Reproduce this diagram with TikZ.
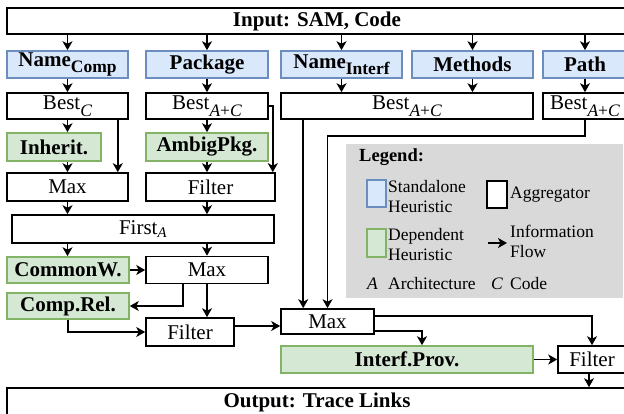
\documentclass[tikz,border=0pt]{standalone}
\usepackage{amsmath}
\usepackage{fontspec}
\setmainfont{Liberation Serif}
\usetikzlibrary{arrows.meta}
\definecolor{stafill}{HTML}{DAE8FC}
\definecolor{stadraw}{HTML}{6C8EBF}
\definecolor{depfill}{HTML}{D5E8D4}
\definecolor{depdraw}{HTML}{82B366}
\definecolor{lgfill}{HTML}{D9D9D9}
\newcommand{\sbsc}[1]{\raisebox{-6.5pt}{\fontsize{17.5}{20}\selectfont #1}}
\begin{document}
\begin{tikzpicture}[x=1pt, y=-1pt,
        font=\fontsize{21}{24}\selectfont,
        agg/.style={draw, line width=1.6pt, fill=white, inner sep=0pt, minimum height=27pt},
        sta/.style={agg, draw=stadraw, fill=stafill, font=\fontsize{21}{24}\selectfont\bfseries},
        dep/.style={agg, draw=depdraw, fill=depfill, font=\fontsize{21}{24}\selectfont\bfseries},
        arr/.style={-{Stealth[length=9pt, width=10pt, inset=2.5pt]}, line width=1.7pt},
        lgtext/.style={anchor=west, inner sep=0pt, align=left, font=\fontsize{17.5}{20}\selectfont}]
        \useasboundingbox (0, 0) rectangle (624, 414);
        \clip (0, 0) rectangle (624, 414);
        % legend
        \fill[lgfill] (346, 144) rectangle (623, 298);
        \node[lgtext, font=\fontsize{18.5}{20}\selectfont\bfseries] (lgtitle) at (359, 157) {Legend:};
        \node[sta, minimum width=19pt] (lgsta) at (376.5, 193.5) {};
        \node[agg, minimum width=20pt] (lgagg) at (497, 194.5) {};
        \node[dep, minimum width=19pt, minimum height=28pt] (lgdep) at (376.5, 243) {};
        \node[lgtext] (lgstatext) at (388, 197) {Standalone\\Heuristic};
        \node[lgtext] (lgaggtext) at (510, 195) {Aggregator};
        \node[lgtext] (lgdeptext) at (388, 245) {Dependent\\Heuristic};
        \node[lgtext] (lgflowtext) at (510, 241) {Information\\Flow};
        \draw[arr] (488, 243) -- (507, 243);
        \node[lgtext, font=\fontsize{17.5}{20}\selectfont\itshape] (lga) at (367, 284) {A};
        \node[lgtext] (lgarch) at (388, 284) {Architecture};
        \node[lgtext, font=\fontsize{17.5}{20}\selectfont\itshape] (lgc) at (491, 284) {C};
        \node[lgtext] (lgcode) at (510, 284) {Code};
        % input and output
        \node[agg, minimum width=620pt, minimum height=26pt, font=\fontsize{21}{24}\selectfont\bfseries] (in) at (317, 21) {Input: SAM, Code};
        \node[agg, minimum width=620pt, minimum height=28pt, font=\fontsize{21}{24}\selectfont\bfseries] (out) at (317, 402) {Output: Trace Links};
        % heuristics
        \node[sta, minimum width=121pt] (ncomp) at (67.5, 64.5) {Name\sbsc{\bfseries Comp}};
        \node[sta, minimum width=122pt] (pkg) at (207, 64.5) {Package};
        \node[sta, minimum width=121pt] (nintf) at (341.5, 64.5) {Name\sbsc{\bfseries Interf}};
        \node[sta, minimum width=121pt] (mth) at (472.5, 64.5) {Methods};
        \node[sta, minimum width=84pt] (pth) at (585, 64.5) {Path};
        \node[agg, minimum width=121pt, minimum height=26pt] (bc) at (67.5, 106) {Best\sbsc{\itshape C}};
        \node[agg, minimum width=122pt, minimum height=26pt] (bpkg) at (207, 106) {Best\sbsc{\itshape A\upshape+\itshape C}};
        \node[agg, minimum width=252pt, minimum height=26pt] (bim) at (407, 106) {Best\sbsc{\itshape A\upshape+\itshape C}};
        \node[agg, minimum width=84pt, minimum height=26pt] (bpth) at (585, 106) {Best\sbsc{\itshape A\upshape+\itshape C}};
        \node[dep, minimum width=94pt, minimum height=28pt] (inh) at (54, 147) {Inherit.};
        \node[dep, minimum width=122pt, minimum height=28pt] (amb) at (207, 147) {AmbigPkg.};
        \node[agg, minimum width=121pt, minimum height=28pt] (max1) at (67.5, 187) {Max};
        \node[agg, minimum width=129pt, minimum height=28pt] (filt1) at (210.5, 187) {Filter};
        \node[agg, minimum width=262pt, minimum height=28pt] (first) at (143, 229) {First$_{\text{\itshape A}}$};
        \node[dep, minimum width=122pt, minimum height=26pt] (cw) at (68, 270) {CommonW.};
        \node[agg, minimum width=122pt, minimum height=27pt] (max2) at (207, 270) {Max};
        \node[dep, minimum width=122pt, minimum height=26pt] (cr) at (68, 306) {Comp.Rel.};
        \node[agg, minimum width=88pt, minimum height=28pt] (filt2) at (190, 332) {Filter};
        \node[agg, minimum width=93pt, minimum height=25pt] (max3) at (327.5, 321.5) {Max};
        \node[dep, minimum width=252pt, minimum height=27pt] (ip) at (407, 359.5) {Interf.Prov.};
        \node[agg, minimum width=68pt, minimum height=27pt] (filt3) at (592, 359.5) {Filter};
        % flow
        \draw[arr] (in.south -| ncomp.north) -- (ncomp.north);
        \draw[arr] (in.south -| pkg.north) -- (pkg.north);
        \draw[arr] (in.south -| nintf.north) -- (nintf.north);
        \draw[arr] (in.south -| mth.north) -- (mth.north);
        \draw[arr] (in.south -| pth.north) -- (pth.north);
        \draw[arr] (ncomp.south) -- (bc.north);
        \draw[arr] (pkg.south) -- (bpkg.north);
        \draw[arr] (nintf.south) -- (nintf.south |- bim.north);
        \draw[arr] (mth.south) -- (mth.south |- bim.north);
        \draw[arr] (pth.south) -- (bpth.north);
        \draw[arr] (bc.south) -- (bc.south |- inh.north);
        \draw[arr] (inh.south -| max1.north) -- (max1.north);
        \draw[arr] ([xshift=-11pt]bc.south east) -- ([xshift=-11pt]max1.north east);
        \draw[arr] (bpkg.south) -- (amb.north);
        \draw[arr] (amb.south) -- (amb.south |- filt1.north);
        \draw[arr] (bpkg.east) -| ([xshift=-3pt]filt1.north east);
        \draw[arr] (max1.south) -- (max1.south |- first.north);
        \draw[arr] (amb.south |- filt1.south) -- (amb.south |- first.north);
        \draw[arr] (max1.south |- first.south) -- (max1.south |- cw.north);
        \draw[arr] (max2.north |- first.south) -- (max2.north);
        \draw[arr] (cw.east) -- (max2.west);
        \draw[arr] ([xshift=-24pt]max2.south) |- (cr.east);
        \draw[arr] (max2.south) -- (max2.south |- filt2.north);
        \draw[arr] (cr.south) |- (filt2.west);
        \draw[arr] ([yshift=6pt]filt2.east) -- ([yshift=6pt]filt2.east -| max3.west);
        \draw[arr] ([xshift=23pt]bim.south west) -- ([xshift=23pt]bim.south west |- max3.north);
        \draw[arr] (bpth.south) -- ++(0, 16) -| (max3.north);
        \draw[arr] ([yshift=-9.5pt]max3.east) -| ([xshift=15pt]ip.north);
        \draw[arr] ([yshift=5.5pt]max3.east) -| (filt3.north);
        \draw[arr] (ip.east) -- (filt3.west);
        \draw[arr] ([xshift=-3pt]filt3.south) -- ([xshift=-3pt]filt3.south |- out.north);
\end{tikzpicture}
\end{document}
